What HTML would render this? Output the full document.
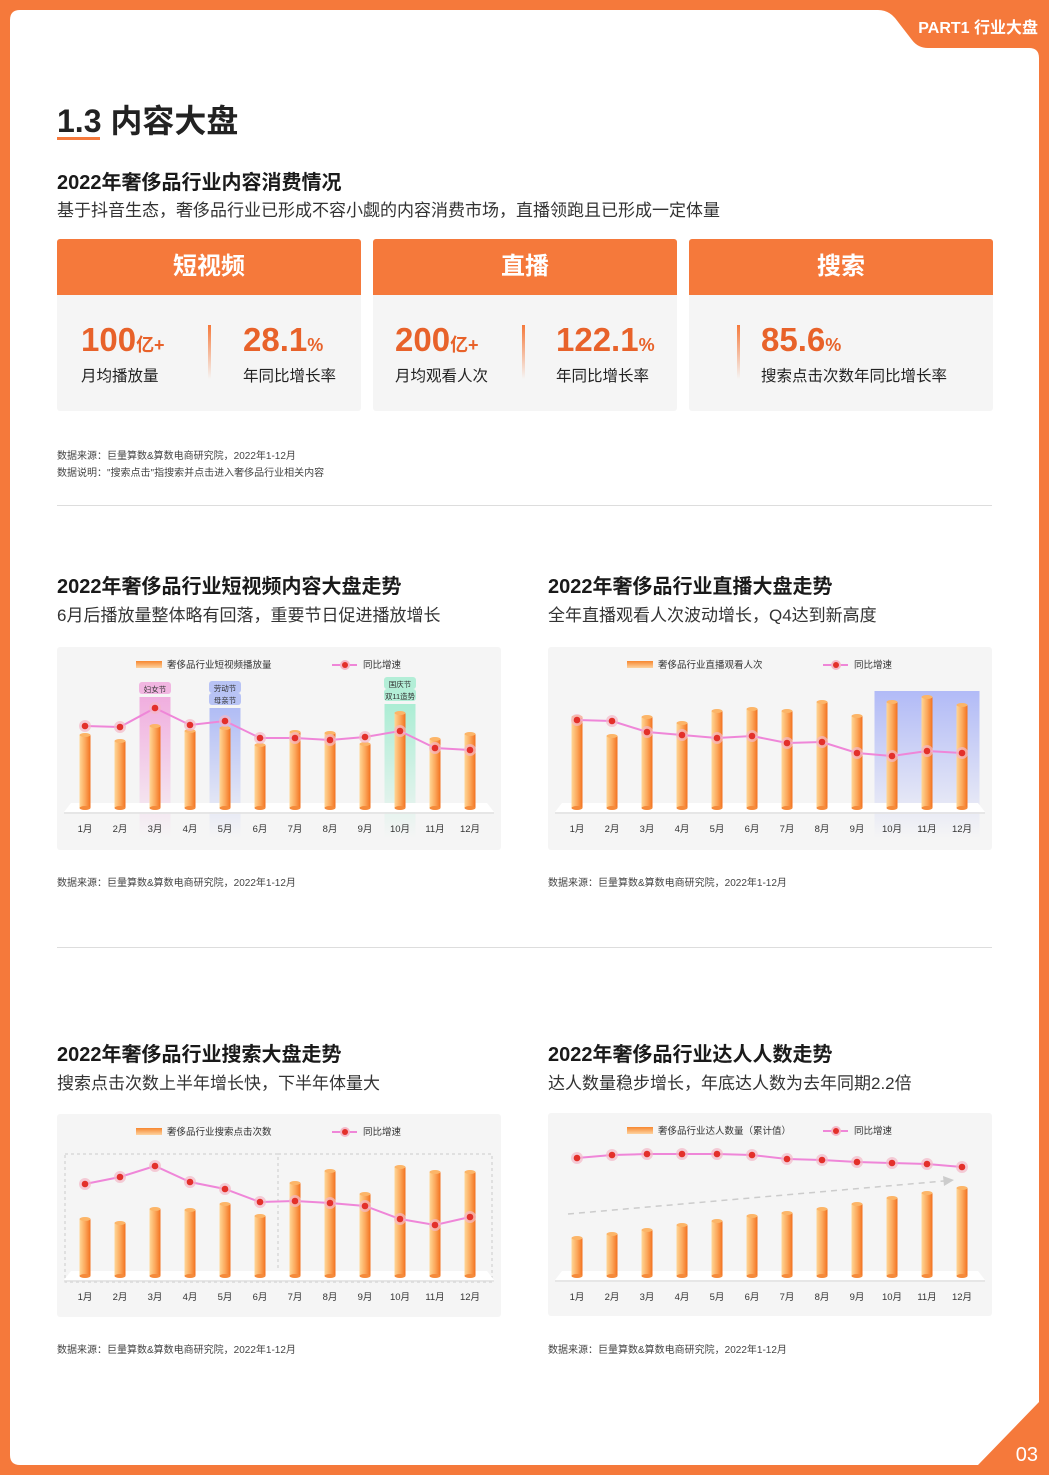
<!DOCTYPE html>
<html><head><meta charset="utf-8">
<style>
*{margin:0;padding:0;box-sizing:border-box}
body{width:1049px;height:1475px;position:relative;background:#F5793B;font-family:"Liberation Sans","Noto Sans CJK SC",sans-serif;color:#222;overflow:hidden}
.abs{position:absolute}
.h2{font-size:20px;font-weight:bold;color:#1a1a1a;white-space:nowrap}
.desc{font-size:17px;color:#333;white-space:nowrap}
.note{font-size:10px;color:#444;white-space:nowrap}
.card{position:absolute;top:239px;width:304px;height:172px;background:#f5f5f5;border-radius:3px;overflow:hidden}
.card .hd{height:56px;background:#F5793B;color:#fff;font-size:24px;font-weight:bold;text-align:center;line-height:56px}
.big{position:absolute;top:82px;font-size:33px;font-weight:bold;color:#E8622A;white-space:nowrap}
.big small{font-size:18px}
.lab{position:absolute;top:125px;font-size:15.5px;color:#222;white-space:nowrap}
.sep{position:absolute;top:86px;width:3px;height:54px;background:linear-gradient(#F5793B,rgba(245,121,59,0))}
.div{position:absolute;left:57px;width:935px;height:1px;background:#ddd}
svg text{font-family:"Liberation Sans","Noto Sans CJK SC",sans-serif}
</style></head><body>
<svg class="abs" style="left:0;top:0" width="1049" height="1475">
<path d="M20,10 L878,10 Q888,10 895,18 L912,40 Q918,48 928,48 L1029,48 Q1039,48 1039,58 L1039,1402 L978,1465 L20,1465 Q10,1465 10,1455 L10,20 Q10,10 20,10 Z" fill="#fff"/>
<text x="1038" y="33" text-anchor="end" fill="#fff" font-size="16" font-weight="bold">PART1 行业大盘</text>
<text x="1038" y="1461" text-anchor="end" fill="#fff" font-size="20">03</text>
</svg>

<div class="abs" style="left:57px;top:96px;font-size:32px;font-weight:bold;white-space:nowrap">1.3 内容大盘</div>
<div class="abs" style="left:57px;top:137px;width:43px;height:3px;background:#F5793B"></div>
<div class="abs h2" style="left:57px;top:166px">2022年奢侈品行业内容消费情况</div>
<div class="abs desc" style="left:57px;top:196px">基于抖音生态，奢侈品行业已形成不容小觑的内容消费市场，直播领跑且已形成一定体量</div>

<div class="card" style="left:57px">
<div class="hd">短视频</div>
<div class="big" style="left:24px">100<small>亿+</small></div><div class="lab" style="left:24px">月均播放量</div>
<div class="sep" style="left:151px"></div>
<div class="big" style="left:186px">28.1<small>%</small></div><div class="lab" style="left:186px">年同比增长率</div>
</div>
<div class="card" style="left:373px">
<div class="hd">直播</div>
<div class="big" style="left:22px">200<small>亿+</small></div><div class="lab" style="left:22px">月均观看人次</div>
<div class="sep" style="left:149px"></div>
<div class="big" style="left:183px">122.1<small>%</small></div><div class="lab" style="left:183px">年同比增长率</div>
</div>
<div class="card" style="left:689px">
<div class="hd">搜索</div>
<div class="sep" style="left:48px"></div>
<div class="big" style="left:72px">85.6<small>%</small></div><div class="lab" style="left:72px">搜索点击次数年同比增长率</div>
</div>

<div class="abs note" style="left:57px;top:447px">数据来源：巨量算数&amp;算数电商研究院，2022年1-12月</div>
<div class="abs note" style="left:57px;top:464px">数据说明："搜索点击"指搜索并点击进入奢侈品行业相关内容</div>
<div class="div" style="top:505px"></div>

<div class="abs h2" style="left:57px;top:570px">2022年奢侈品行业短视频内容大盘走势</div>
<div class="abs desc" style="left:57px;top:601px">6月后播放量整体略有回落，重要节日促进播放增长</div>
<div class="abs h2" style="left:548px;top:570px">2022年奢侈品行业直播大盘走势</div>
<div class="abs desc" style="left:548px;top:601px">全年直播观看人次波动增长，Q4达到新高度</div>
<div class="abs note" style="left:57px;top:874px">数据来源：巨量算数&amp;算数电商研究院，2022年1-12月</div>
<div class="abs note" style="left:548px;top:874px">数据来源：巨量算数&amp;算数电商研究院，2022年1-12月</div>
<div class="div" style="top:947px"></div>

<div class="abs h2" style="left:57px;top:1038px">2022年奢侈品行业搜索大盘走势</div>
<div class="abs desc" style="left:57px;top:1069px">搜索点击次数上半年增长快，下半年体量大</div>
<div class="abs h2" style="left:548px;top:1038px">2022年奢侈品行业达人人数走势</div>
<div class="abs desc" style="left:548px;top:1069px">达人数量稳步增长，年底达人数为去年同期2.2倍</div>
<div class="abs note" style="left:57px;top:1341px">数据来源：巨量算数&amp;算数电商研究院，2022年1-12月</div>
<div class="abs note" style="left:548px;top:1341px">数据来源：巨量算数&amp;算数电商研究院，2022年1-12月</div>

<svg id="c1" class="abs" style="left:57px;top:647px" width="444" height="203"></svg>
<svg id="c2" class="abs" style="left:548px;top:647px" width="444" height="203"></svg>
<svg id="c3" class="abs" style="left:57px;top:1114px" width="444" height="203"></svg>
<svg id="c4" class="abs" style="left:548px;top:1113px" width="444" height="203"></svg>

<script>
const months = ["1月","2月","3月","4月","5月","6月","7月","8月","9月","10月","11月","12月"];
const videoPlays = [73,67,82,77,80,63,76,75,64,95,69,74];
const videoYoY = [34,33,52,35,39,22,22,20,23,29,12,10];
const livePlays = [91,72,91,85,97,99,97,106,92,106,111,103];
const liveYoY = [50,49,38,35,32,34,27,28,17,14,19,17];
const searchClicks = [57,53,67,66,72,60,93,105,82,109,104,104];
const searchYoY = [51,58,69,53,46,33,34,32,29,16,10,18];
const creatorCount = [38,42,46,51,55,60,63,67,72,78,83,88];
const creatorYoY = [17,20,21,21,21,20,16,15,13,12,11,8];

const NS="http://www.w3.org/2000/svg";
function mk(p,tag,at){const e=document.createElementNS(NS,tag);for(const k in at)e.setAttribute(k,at[k]);p.appendChild(e);return e;}
function txt(p,x,y,s,size,fill,anchor){const t=mk(p,'text',{x:x,y:y,'font-size':size,fill:fill,'text-anchor':anchor||'start'});t.textContent=s;return t;}

function draw(id,bars,line,cfg){
  const svg=document.getElementById(id);
  const xAt=i=>cfg.x0+i*35;
  const yBar=v=>cfg.base-v;
  const yLine=v=>cfg.lineZero-v;
  const defs=mk(svg,'defs',{});
  const g=mk(defs,'linearGradient',{id:id+'g',x1:0,y1:0,x2:1,y2:0});
  mk(g,'stop',{offset:0,'stop-color':'#ffd796'});mk(g,'stop',{offset:0.55,'stop-color':'#fba457'});mk(g,'stop',{offset:1,'stop-color':'#f2711f'});
  const lg=mk(defs,'linearGradient',{id:id+'lg',x1:0,y1:0,x2:0,y2:1});
  mk(lg,'stop',{offset:0,'stop-color':'#f7872f'});mk(lg,'stop',{offset:1,'stop-color':'#fdd3a0'});
  mk(svg,'rect',{x:0,y:0,width:444,height:203,rx:3,fill:'#f5f5f5'});
  (cfg.hl||[]).forEach(h=>{
    const hg=mk(defs,'linearGradient',{id:id+'h'+h.i,x1:0,y1:0,x2:0,y2:1});
    mk(hg,'stop',{offset:0,'stop-color':h.c,'stop-opacity':0.9});mk(hg,'stop',{offset:1,'stop-color':h.c,'stop-opacity':0});
    const r=mk(svg,'rect',{x:xAt(h.i)-h.w/2,y:h.y,width:h.w,height:cfg.base+30-h.y,fill:'url(#'+id+'h'+h.i+')'});
    
    
    if(h.t){h.t.forEach((s,k)=>{mk(svg,'rect',{x:xAt(h.i)-16,y:h.y-14-12*(h.t.length-1)+k*12-1,width:32,height:12,rx:3,fill:h.c,opacity:0.8});txt(svg,xAt(h.i),h.y-5-12*(h.t.length-1-k),s,7.5,'#333','middle');});}
  });
  if(cfg.dash){mk(svg,'rect',{x:8,y:40,width:213,height:128,fill:'none',stroke:'#ccc','stroke-dasharray':'3,3'});mk(svg,'rect',{x:221,y:40,width:214,height:128,fill:'none',stroke:'#ccc','stroke-dasharray':'3,3'});}
  if(cfg.arrow){mk(svg,'line',{x1:20,y1:101,x2:396,y2:68,stroke:'#ccc','stroke-width':1.5,'stroke-dasharray':'6,5'});mk(svg,'path',{d:'M395,63 L406,67 L396,73 Z',fill:'#ccc'});}
  mk(svg,'path',{d:'M14,'+(cfg.base-5)+' L430,'+(cfg.base-5)+' L437,'+(cfg.base+4)+' L7,'+(cfg.base+4)+' Z',fill:'#fff'});
  mk(svg,'line',{x1:7,y1:cfg.base+5,x2:437,y2:cfg.base+5,stroke:'#e2e2e2','stroke-width':1.5});
  bars.forEach((v,i)=>{
    const x=xAt(i),y=yBar(v);
    const r=mk(svg,'rect',{x:x-5.5,y:y,width:11,height:cfg.base-y,fill:'url(#'+id+'g)'});
    
    
    mk(svg,'ellipse',{cx:x,cy:y,rx:5.5,ry:2,fill:'#fcb568'});
    mk(svg,'ellipse',{cx:x,cy:cfg.base,rx:5.5,ry:2,fill:'#f58a3a'});
    const t=txt(svg,x,cfg.base+24,months[i],9.5,'#333','middle');
    
    
  });
  const pl=mk(svg,'polyline',{points:line.map((v,i)=>xAt(i)+','+yLine(v)).join(' '),fill:'none',stroke:'#ef86d8','stroke-width':2});
  
  
  line.forEach((v,i)=>{
    mk(svg,'circle',{cx:xAt(i),cy:yLine(v),r:6,fill:'#f4b8c8',opacity:0.7});
    const c=mk(svg,'circle',{cx:xAt(i),cy:yLine(v),r:3.3,fill:'#e3302a'});
    
    
  });
  const lgd=mk(svg,'g',{});
  
  
  mk(lgd,'rect',{x:79,y:14,width:26,height:7,fill:'url(#'+id+'lg)'});
  txt(lgd,110,21,cfg.label,9.5,'#333');
  mk(lgd,'line',{x1:275,y1:18,x2:300,y2:18,stroke:'#ef86d8','stroke-width':2});
  mk(lgd,'circle',{cx:288,cy:18,r:5,fill:'#f4b8c8'});mk(lgd,'circle',{cx:288,cy:18,r:3,fill:'#e3302a'});
  txt(lgd,306,21,'同比增速',9.5,'#333');
}
draw('c1',videoPlays,videoYoY,{x0:28,base:161,lineZero:113,label:'奢侈品行业短视频播放量',
  hl:[{i:2,w:31,y:50,c:'#f0a6dc',t:['妇女节']},{i:4,w:31,y:61,c:'#a9b6f5',t:['劳动节','母亲节']},{i:9,w:31,y:57,c:'#a3ecd0',t:['国庆节','双11造势']}]});
draw('c2',livePlays,liveYoY,{x0:29,base:161,lineZero:123,label:'奢侈品行业直播观看人次',
  hl:[{i:10,w:105,y:44,c:'#aab4f7'}]});
draw('c3',searchClicks,searchYoY,{x0:28,base:162,lineZero:121,label:'奢侈品行业搜索点击次数',dash:true});
draw('c4',creatorCount,creatorYoY,{x0:29,base:163,lineZero:62,label:'奢侈品行业达人数量（累计值）',arrow:true});
</script>
</body></html>
